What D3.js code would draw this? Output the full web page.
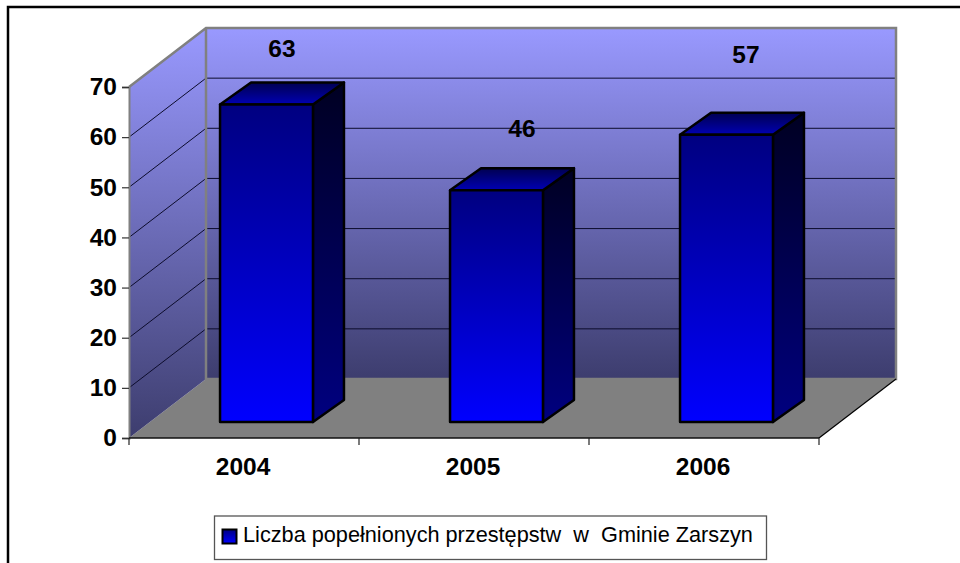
<!DOCTYPE html>
<html lang="en">

<head>
    <meta charset="utf-8">
    <style>
        body { margin: 0; background: #fff; }
        svg { display: block; }
        text { font-family: "Liberation Sans", Arial, sans-serif; fill: #000; }
    </style>
</head>

<body>
    <script src='https://d3js.org/d3.v7.min.js'></script>

    <script>
        const years = ['2004', '2005', '2006'];
        const crimes = [63, 46, 57];
        const yTicks = [0, 10, 20, 30, 40, 50, 60, 70];
        const legendLabel = 'Liczba popełnionych przestępstw  w  Gminie Zarszyn';

        const width = 960;
        const height = 563;

        // front plane of the 3d box and how far the back wall is shifted
        const plot = { left: 129, right: 819, bottom: 438, top: 87 };
        const depth = { x: 77, y: -59 };
        // where the bars stand on the floor and how deep they are
        const barOffset = { x: 22.5, y: -16 };
        const barDepth = { x: 31, y: -22 };

        // labels were moved by hand in the original chart
        const labelShift = [[15.5, -56], [25.5, -62], [19.5, -80]];

        const svg = d3.select('body')
            .append('svg')
            .attr('width', width)
            .attr('height', height);

        const defs = svg.append('defs');

        function gradient(id, top, bottom) {
            const g = defs.append('linearGradient')
                .attr('id', id)
                .attr('x1', 0).attr('y1', 0)
                .attr('x2', 0).attr('y2', 1);
            g.append('stop').attr('offset', '0%').attr('stop-color', top);
            g.append('stop').attr('offset', '100%').attr('stop-color', bottom);
        }
        gradient('wall', '#9999ff', '#3d3d6e');
        gradient('front', '#000080', '#0000ff');
        gradient('side', '#000022', '#000080');
        gradient('topFace', '#000050', '#0000b4');

        const x = d3.scaleBand()
            .domain(years)
            .range([plot.left, plot.right])
            .paddingInner(0.596)
            .paddingOuter(0.298);

        const y = d3.scaleLinear()
            .domain([0, 70])
            .range([plot.bottom, plot.top]);

        // bars stand further back on the floor, so they have their own height scale
        const barBase = plot.bottom + barOffset.y;
        const barY = d3.scaleLinear()
            .domain([0, 70])
            .range([barBase, barBase - 70 * 5.04]);

        const poly = function (pts) { return pts.map(function (p) { return p.join(','); }).join(' '); };

        // outer frame
        svg.append('rect')
            .attr('x', 8).attr('y', 7)
            .attr('width', 1000).attr('height', 1000)
            .attr('fill', '#fff')
            .attr('stroke', '#000')
            .attr('stroke-width', 2.5);

        const backLeft = plot.left + depth.x;
        const backRight = plot.right + depth.x;
        const backBottom = plot.bottom + depth.y;
        const backTop = plot.top + depth.y;

        // floor
        svg.append('polygon')
            .attr('points', poly([[plot.left, plot.bottom], [backLeft, backBottom], [backRight, backBottom], [plot.right, plot.bottom]]))
            .attr('fill', '#808080');

        // walls
        svg.append('rect')
            .attr('x', backLeft).attr('y', backTop)
            .attr('width', backRight - backLeft).attr('height', backBottom - backTop)
            .attr('fill', 'url(#wall)');

        svg.append('polygon')
            .attr('points', poly([[plot.left, y(70)], [backLeft, backTop], [backLeft, backBottom], [plot.left, plot.bottom]]))
            .attr('fill', 'url(#wall)');

        // gridlines on both walls
        const gridTicks = yTicks.filter(function (d) { return d > 0 && d < 70; });
        const grid = svg.append('g')
            .attr('fill', 'none')
            .attr('stroke', '#0c0c2c')
            .attr('stroke-width', 1);

        grid.selectAll('polyline')
            .data(gridTicks)
            .enter()
            .append('polyline')
            .attr('points', function (d) {
                return poly([[plot.left, y(d)], [backLeft, y(d) + depth.y], [backRight, y(d) + depth.y]]);
            });

        // wall edges
        svg.append('polyline')
            .attr('points', poly([[plot.left, y(70)], [backLeft, backTop], [backRight, backTop], [backRight, backBottom], [backLeft, backBottom], [backLeft, backTop]]))
            .attr('fill', 'none')
            .attr('stroke', '#808080')
            .attr('stroke-width', 2.5);

        // floor edge on the right
        svg.append('line')
            .attr('x1', plot.right).attr('y1', plot.bottom)
            .attr('x2', backRight).attr('y2', backBottom)
            .attr('stroke', '#000')
            .attr('stroke-width', 1.2);

        // bars
        const bars = svg.selectAll('.bar')
            .data(crimes)
            .enter()
            .append('g')
            .attr('class', 'bar')
            .attr('stroke', '#000')
            .attr('stroke-width', 2.5)
            .attr('stroke-linejoin', 'round');

        bars.append('polygon')
            .attr('fill', 'url(#side)')
            .attr('points', function (d, i) {
                const r = x(years[i]) + x.bandwidth() + barOffset.x;
                return poly([[r, barY(d)], [r + barDepth.x, barY(d) + barDepth.y], [r + barDepth.x, barBase + barDepth.y], [r, barBase]]);
            });

        bars.append('polygon')
            .attr('fill', 'url(#topFace)')
            .attr('points', function (d, i) {
                const l = x(years[i]) + barOffset.x;
                const r = l + x.bandwidth();
                return poly([[l, barY(d)], [l + barDepth.x, barY(d) + barDepth.y], [r + barDepth.x, barY(d) + barDepth.y], [r, barY(d)]]);
            });

        bars.append('rect')
            .attr('fill', 'url(#front)')
            .attr('x', function (d, i) { return x(years[i]) + barOffset.x; })
            .attr('y', function (d) { return barY(d); })
            .attr('width', x.bandwidth())
            .attr('height', function (d) { return barBase - barY(d); });

        // data labels
        svg.selectAll('.value')
            .data(crimes)
            .enter()
            .append('text')
            .attr('class', 'value')
            .attr('x', function (d, i) { return x(years[i]) + barOffset.x + x.bandwidth() / 2 + labelShift[i][0]; })
            .attr('y', function (d, i) { return barY(d) + labelShift[i][1]; })
            .attr('dy', '.35em')
            .style('text-anchor', 'middle')
            .style('font-size', '24.5px')
            .style('font-weight', 'bold')
            .text(function (d) { return d; });

        // y axis
        const yAxis = svg.append('g')
            .attr('transform', 'translate(' + plot.left + ',0)')
            .call(d3.axisLeft(y).tickValues(yTicks).tickSize(7).tickPadding(5));
        yAxis.select('.domain').attr('stroke', '#808080').attr('stroke-width', 2);
        yAxis.selectAll('.tick line').attr('stroke', '#333').attr('stroke-width', 1.2);
        yAxis.selectAll('text')
            .style('font-size', '24.5px')
            .style('font-weight', 'bold')
            .style('font-family', '"Liberation Sans", Arial, sans-serif');

        // x axis, ticks sit between the categories
        const xAxis = svg.append('g')
            .attr('transform', 'translate(0,' + plot.bottom + ')')
            .call(d3.axisBottom(x).tickSize(0).tickPadding(20));
        xAxis.select('.domain').remove();
        xAxis.selectAll('text')
            .attr('dx', -1)
            .style('font-size', '24.5px')
            .style('font-weight', 'bold')
            .style('font-family', '"Liberation Sans", Arial, sans-serif');

        xAxis.append('line')
            .attr('x1', plot.left).attr('x2', plot.right)
            .attr('stroke', '#111')
            .attr('stroke-width', 1.5);

        xAxis.selectAll('.edge')
            .data(d3.range(years.length + 1))
            .enter()
            .append('line')
            .attr('class', 'edge')
            .attr('x1', function (d) { return plot.left + d * x.step(); })
            .attr('x2', function (d) { return plot.left + d * x.step(); })
            .attr('y2', 7)
            .attr('stroke', '#222')
            .attr('stroke-width', 1.2);

        // legend
        const legend = svg.append('g');
        legend.append('rect')
            .attr('x', 214.5).attr('y', 516)
            .attr('width', 552).attr('height', 43.5)
            .attr('fill', '#fff')
            .attr('stroke', '#555')
            .attr('stroke-width', 1.3);
        legend.append('rect')
            .attr('x', 222.5).attr('y', 529.5)
            .attr('width', 14).attr('height', 14)
            .attr('fill', 'url(#front)')
            .attr('stroke', '#000')
            .attr('stroke-width', 2);
        legend.append('text')
            .attr('x', 243).attr('y', 542)
            .style('white-space', 'pre')
            .style('font-size', '21.7px')
            .text(legendLabel);
    </script>

</body>

</html>
